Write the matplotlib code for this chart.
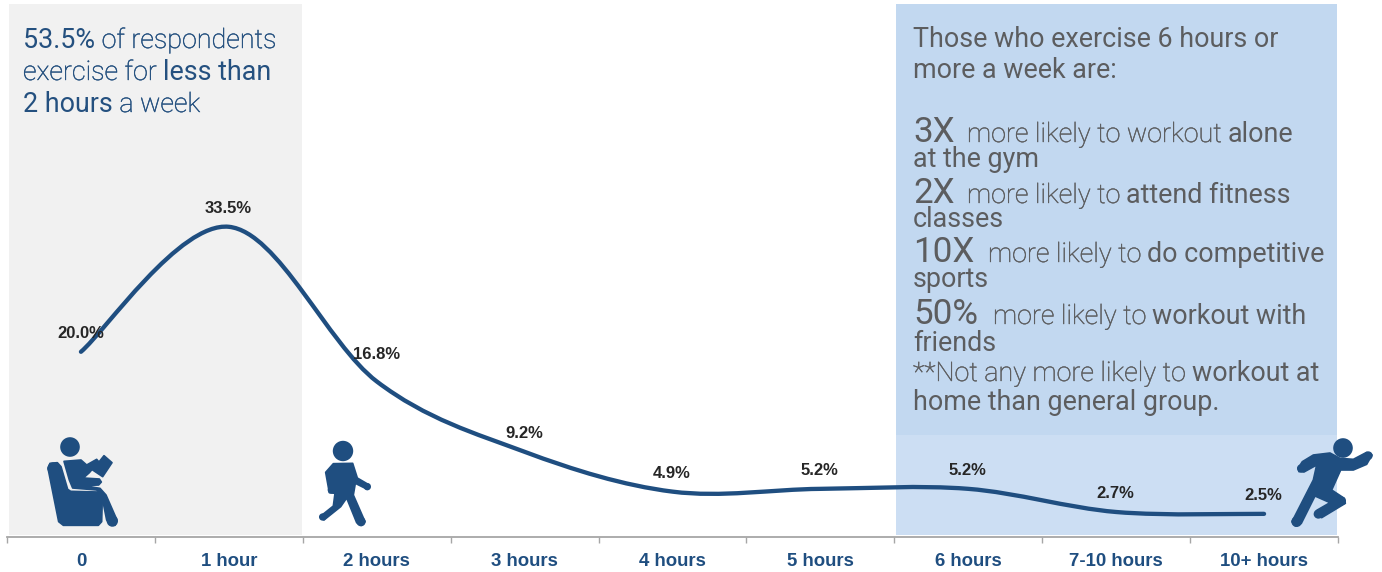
import numpy as np
import matplotlib
matplotlib.use('Agg')
import matplotlib.pyplot as plt
import matplotlib.patheffects as pe
from matplotlib.path import Path
from matplotlib.patches import PathPatch, Rectangle, Circle, Polygon

categories = ['0', '1 hour', '2 hours', '3 hours', '4 hours', '5 hours', '6 hours', '7-10 hours', '10+ hours']
pct = [20.0, 33.5, 16.8, 9.2, 4.9, 5.2, 5.2, 2.7, 2.5]
pct_labels = ['20.0%', '33.5%', '16.8%', '9.2%', '4.9%', '5.2%', '5.2%', '2.7%', '2.5%']

NAVY = '#1f4e80'
W, H = 1382, 572
DPI = 100

fig = plt.figure(figsize=(W / DPI, H / DPI), dpi=DPI)

# overlay in pixel units for panels, icons and the text blocks
px = fig.add_axes([0, 0, 1, 1], zorder=0)
px.set_xlim(0, W)
px.set_ylim(H, 0)
px.axis('off')

px.add_patch(Rectangle((9, 4), 293, 531, fc='#f1f1f1', ec='none'))
px.add_patch(Rectangle((896, 4), 441, 431, fc='#c2d8f0', ec='none'))
px.add_patch(Rectangle((896, 435), 441, 100, fc='#ccdef3', ec='none'))

# chart axes: the bottom edge is the zero line, 9.26 px per percentage point
ax = fig.add_axes([7 / W, 1 - 537 / H, 1331 / W, 537 / H], zorder=1)
ax.patch.set_alpha(0)
ax.set_xlim(-0.5, 8.5)
ax.set_ylim(0, 537 / 9.26)
for s in ['top', 'left', 'right']:
    ax.spines[s].set_visible(False)
ax.spines['bottom'].set_color('#a6a6a6')
ax.spines['bottom'].set_linewidth(1.3)
ax.set_yticks([])
ax.set_xticks(range(len(categories)))
ax.set_xticklabels(categories, fontfamily='Liberation Sans', fontweight='bold', fontsize=13.4, color=NAVY)
ax.tick_params(axis='x', which='major', length=0, pad=11.5)
ax.set_xticks(np.arange(-0.5, 9), minor=True)
ax.tick_params(axis='x', which='minor', length=4.5, width=1, color='#a6a6a6')

# smoothed line through the values, spreadsheet style
xs = np.arange(len(pct), dtype=float)
ys = np.array(pct)
verts = [(xs[0], ys[0])]
codes = [Path.MOVETO]
n = len(xs)
for i in range(n - 1):
    x0, y0 = (xs[i - 1], ys[i - 1]) if i > 0 else (xs[i], ys[i])
    x3, y3 = (xs[i + 2], ys[i + 2]) if i < n - 2 else (xs[i + 1], ys[i + 1])
    c1 = (xs[i] + (xs[i + 1] - x0) / 6, ys[i] + (ys[i + 1] - y0) / 6)
    c2 = (xs[i + 1] - (x3 - xs[i]) / 6, ys[i + 1] - (y3 - ys[i]) / 6)
    verts += [c1, c2, (xs[i + 1], ys[i + 1])]
    codes += [Path.CURVE4] * 3
ax.add_patch(PathPatch(Path(verts, codes), fc='none', ec=NAVY, lw=3.1, capstyle='round'))

for i, lab in enumerate(pct_labels):
    off = 18.5 if i != 2 else 27
    ax.annotate(lab, (xs[i], ys[i]), xytext=(-0.5 * 72 / DPI, off * 72 / DPI), textcoords='offset points',
                ha='center', va='center', fontfamily='Liberation Sans', fontweight='bold',
                fontsize=12, color='#262626')


def runs(x, y, parts, color):
    # draw differently styled pieces of text one after another on a baseline
    r = fig.canvas.get_renderer()
    for txt, size, weight in parts:
        t = px.text(x, y, txt, fontsize=size * 72 / DPI, fontweight=weight, family='Roboto',
                    color=color, va='baseline', ha='left')
        if weight == 'light':
            # thicken the light cut a little
            t.set_path_effects([pe.withStroke(linewidth=0.3, foreground=color)])
        x += t.get_window_extent(r).width


LEFT = '#24507f'
GREY = '#5c5d5f'
s1 = 26.9
runs(23, 48, [('53.5% ', s1, 'regular'), ('of respondents', s1, 'light')], LEFT)
runs(23, 80, [('exercise for ', s1, 'light'), ('less than', s1, 'regular')], LEFT)
runs(23, 112, [('2 hours ', s1, 'regular'), ('a week', s1, 'light')], LEFT)

s2 = 26.9
big = 35
runs(913, 47, [('Those who exercise 6 hours or', s2, 'regular')], GREY)
runs(913, 78, [('more a week are:', s2, 'regular')], GREY)
runs(913, 142, [('3X', big, 'regular')], GREY)
runs(967, 142, [('more likely to workout ', s2, 'light'), ('alone', s2, 'regular')], GREY)
runs(913, 167, [('at the gym', s2, 'regular')], GREY)
runs(913, 203, [('2X', big, 'regular')], GREY)
runs(967, 203, [('more likely to ', s2, 'light'), ('attend fitness', s2, 'regular')], GREY)
runs(913, 227, [('classes', s2, 'regular')], GREY)
runs(913, 262, [('10X', big, 'regular')], GREY)
runs(988, 262, [('more likely to ', s2, 'light'), ('do competitive', s2, 'regular')], GREY)
runs(913, 287, [('sports', s2, 'regular')], GREY)
runs(913, 324, [('50%', big, 'regular')], GREY)
runs(993, 324, [('more likely to ', s2, 'light'), ('workout with', s2, 'regular')], GREY)
runs(913, 351, [('friends', s2, 'regular')], GREY)
runs(913, 381, [('**Not any more likely to ', s2, 'light'), ('workout at', s2, 'regular')], GREY)
runs(913, 410, [('home than general group.', s2, 'regular')], GREY)


def blob(ox, oy, pts):
    # outlines are noted at triple scale around an icon origin
    arr = np.array(pts, dtype=float) / 3 + (ox, oy)
    px.add_patch(Polygon(arr, closed=True, fc=NAVY, ec=NAVY, lw=1.2, joinstyle='round', zorder=3))


def dots(ox, oy, pts):
    # rounded ends for hands and feet
    for x, y, r in pts:
        px.add_patch(Circle((ox + x / 3, oy + y / 3), r / 3, fc=NAVY, ec='none', zorder=3))


# reader in an armchair
px.add_patch(Circle((70, 447), 9.8, fc=NAVY, ec='none', zorder=3))
blob(0, 420, [(144, 145), (150, 130), (172, 128), (183, 140), (203, 208), (212, 214), (295, 216),
              (307, 232), (305, 305), (295, 316), (190, 316), (176, 305)])
blob(0, 420, [(192, 124), (243, 120), (260, 135), (290, 118), (296, 125), (268, 158), (250, 174),
              (298, 177), (304, 186), (296, 195), (250, 197), (300, 205), (318, 225), (350, 298),
              (345, 316), (332, 316), (320, 300), (305, 225), (290, 210), (218, 204), (208, 180)])
blob(0, 420, [(278, 150), (312, 107), (336, 128), (308, 170)])
dots(0, 420, [(337, 303, 17), (160, 145, 18)])

# walking figure
px.add_patch(Circle((343, 451), 10.2, fc=NAVY, ec='none', zorder=3))
blob(0, 420, [(977, 157), (1000, 131), (1058, 130), (1072, 174), (1108, 195), (1102, 208), (1066, 190),
              (1060, 225), (1095, 305), (1084, 316), (1070, 308), (1040, 234), (1022, 260),
              (972, 300), (960, 290), (1000, 258), (1005, 220), (988, 218)])
dots(0, 420, [(1102, 200, 11), (968, 291, 11), (1083, 305, 14), (994, 210, 11)])

# runner
px.add_patch(Circle((1343, 448), 9.8, fc=NAVY, ec='none', zorder=3))
blob(1100, 420, [(594, 145), (607, 125), (640, 105), (690, 99), (720, 115), (760, 118), (800, 97),
                 (816, 105), (800, 133), (760, 150), (722, 150), (695, 210), (733, 235), (736, 250),
                 (665, 293), (644, 285), (652, 270), (690, 248), (645, 228), (604, 310), (586, 318),
                 (576, 305), (640, 180), (650, 135), (612, 156), (597, 155)])
dots(1100, 420, [(805, 107, 13), (603, 145, 12), (590, 305, 16), (655, 282, 14), (725, 243, 13)])

fig.savefig('out.png', dpi=DPI)
